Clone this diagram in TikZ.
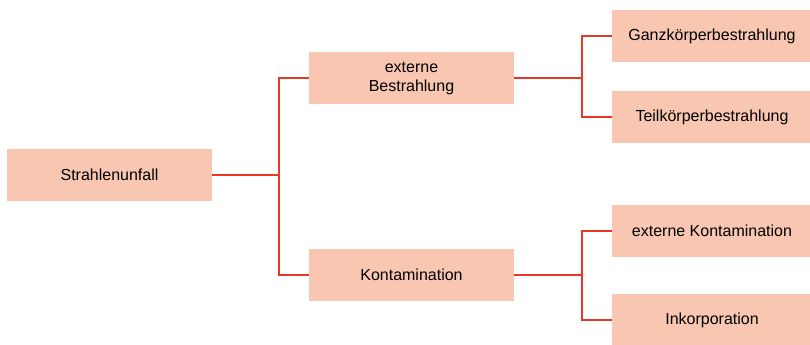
\documentclass[tikz,border=0pt]{standalone}
\usepackage{fontspec}
\setmainfont{Liberation Sans}
\usepackage{tikz}

\definecolor{boxfill}{RGB}{248,198,177}
\definecolor{linkred}{RGB}{232,56,40}

\begin{document}
\begin{tikzpicture}[x=0.75pt, y=-0.75pt,
    box/.style={fill=boxfill, minimum height=52*0.75pt, inner sep=0pt,
      font=\fontsize{12}{14.25}\selectfont, align=center},
    link/.style={draw=linkred, line width=2.1pt}]
      \useasboundingbox (0, 0) rectangle (810, 345);

      \node[box, minimum width=205*0.75pt] (unfall) at (109.5, 175) {Strahlenunfall};
      \node[box, minimum width=205*0.75pt] (extB) at (411.5, 78) {externe\\Bestrahlung};
      \node[box, minimum width=205*0.75pt] (kont) at (411.5, 275) {Kontamination};

      \node[box, minimum width=200*0.75pt] (ganz) at (712, 36) {Ganzkörperbestrahlung};
      \node[box, minimum width=200*0.75pt] (teil) at (712, 117) {Teilkörperbestrahlung};
      \node[box, minimum width=200*0.75pt] (extK) at (712, 231) {externe Kontamination};
      \node[box, minimum width=200*0.75pt] (inkorp) at (712, 320) {Inkorporation};

      \coordinate (j1) at (279, 175);
      \coordinate (j2) at (582, 78);
      \coordinate (j3) at (582, 275);

      \draw [link] (unfall.east) -- (j1) (extB.west) -| (j1) |- (kont.west);
      \draw [link] (extB.east) -- (j2) (ganz.west) -| (j2) |- (teil.west);
      \draw [link] (kont.east) -- (j3) (extK.west) -| (j3) |- (inkorp.west);

    \end{tikzpicture}
\end{document}
